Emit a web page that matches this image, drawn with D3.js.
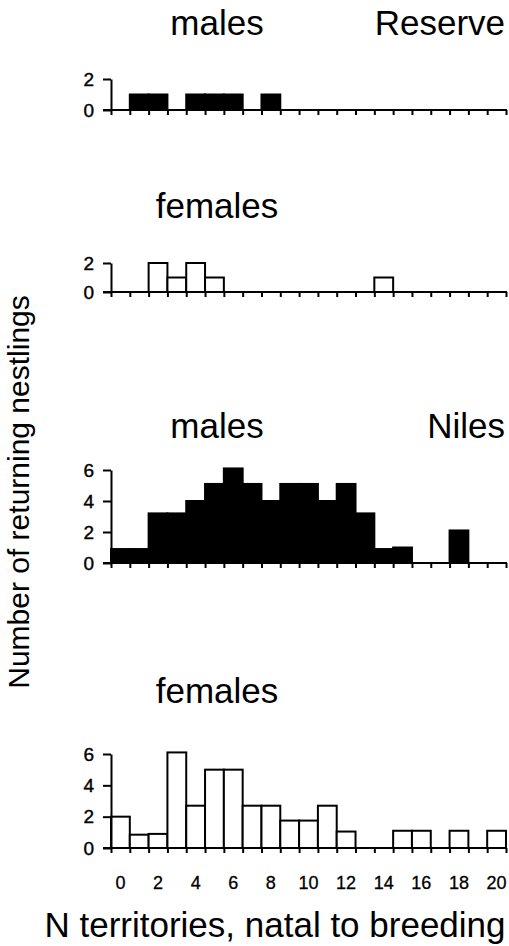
<!DOCTYPE html>
<html>
<head>
<meta charset="utf-8">
<script src="https://cdn.jsdelivr.net/npm/d3@7"></script>
<style>
  html, body { margin: 0; padding: 0; background: #fff; }
  svg { display: block; font-family: "Liberation Sans", Arial, Helvetica, sans-serif; }
</style>
</head>
<body>
<svg id="chart" width="509" height="946"></svg>
<script>
// Distance (in territories) between natal and breeding sites, bins 0..20
const bins = d3.range(0, 21);
const xTickLabels = [0, 2, 4, 6, 8, 10, 12, 14, 16, 18, 20];

// Reserve population
const reserveMales   = [0, 1, 1, 0, 1, 1, 1, 0, 1, 0, 0, 0, 0, 0, 0, 0, 0, 0, 0, 0, 0];
const reserveFemales = [0, 0, 2, 1, 2, 1, 0, 0, 0, 0, 0, 0, 0, 0, 1, 0, 0, 0, 0, 0, 0];
const reserveTicks   = [0, 2];

// Niles population
const nilesMales   = [0.9, 0.9, 3.2, 3.2, 4, 5.1, 6.1, 5.1, 4, 5.1, 5.1, 4, 5.1, 3.2, 0.9, 1, 0, 0, 2.1, 0, 0];
const nilesFemales = [2, 0.85, 0.9, 6.1, 2.7, 5, 5, 2.7, 2.7, 1.75, 1.75, 2.7, 1.05, 0, 0, 1.1, 1.1, 0, 1.1, 0, 1.1];
const nilesTicks   = [0, 2, 4, 6];

const svg = d3.select("#chart");

const x = d3.scaleLinear().domain([0, 21]).range([111, 506]);

const panels = [
  { values: reserveMales,   ticks: reserveTicks, max: 2, bottom: 110, top: 79,  fill: "#000", title: "males",   site: "Reserve", titleY: 35 },
  { values: reserveFemales, ticks: reserveTicks, max: 2, bottom: 292, top: 263, fill: "#fff", title: "females", site: null,      titleY: 218 },
  { values: nilesMales,     ticks: nilesTicks,   max: 6, bottom: 563, top: 470, fill: "#000", title: "males",   site: "Niles",   titleY: 438 },
  { values: nilesFemales,   ticks: nilesTicks,   max: 6, bottom: 848, top: 754, fill: "#fff", title: "females", site: null,      titleY: 703 }
];

panels.forEach((p, i) => {
  const y = d3.scaleLinear().domain([0, p.max]).range([p.bottom, p.top]);
  const g = svg.append("g");

  // bars
  g.selectAll("rect.bar")
    .data(p.values.map((v, k) => ({ bin: bins[k], v })).filter(d => d.v > 0))
    .join("rect")
    .attr("class", "bar")
    .attr("x", d => x(d.bin))
    .attr("width", d => x(d.bin + 1) - x(d.bin))
    .attr("y", d => y(d.v))
    .attr("height", d => y(0) - y(d.v))
    .attr("fill", p.fill)
    .attr("stroke", "#000")
    .attr("stroke-width", 2);

  // x axis: baseline with downward ticks at every bin edge
  const xAxis = d3.axisBottom(x)
    .tickValues(d3.range(0, 22))
    .tickSize(5)
    .tickSizeOuter(0)
    .tickFormat("");
  const xg = g.append("g")
    .attr("transform", `translate(0,${p.bottom})`)
    .call(xAxis);
  xg.select(".domain").remove();
  xg.selectAll(".tick line").attr("stroke", "#000").attr("stroke-width", 2);
  g.append("line")
    .attr("x1", 103).attr("x2", x(21) + 1)
    .attr("y1", p.bottom).attr("y2", p.bottom)
    .attr("stroke", "#000").attr("stroke-width", 2);

  // y axis
  const yAxis = d3.axisLeft(y)
    .tickValues(p.ticks)
    .tickSize(8)
    .tickSizeOuter(0)
    .tickPadding(9)
    .tickFormat(d3.format("d"));
  const yg = g.append("g")
    .attr("transform", `translate(${x(0)},0)`)
    .call(yAxis);
  yg.select(".domain").attr("stroke", "#000").attr("stroke-width", 2);
  yg.selectAll(".tick line").attr("stroke", "#000").attr("stroke-width", 2);
  yg.selectAll(".tick text")
    .style("font-size", "19px")
    .attr("font-family", "Liberation Sans, Arial, sans-serif")
    .attr("fill", "#000")
    .attr("stroke", "#000")
    .attr("stroke-width", 0.4);

  // panel titles
  g.append("text")
    .attr("x", 217).attr("y", p.titleY)
    .attr("text-anchor", "middle")
    .attr("font-size", 35)
    .text(p.title);
  if (p.site) {
    g.append("text")
      .attr("x", 505).attr("y", p.titleY)
      .attr("text-anchor", "end")
      .attr("font-size", 35)
      .text(p.site);
  }

  // tick labels on the bottom panel only
  if (i === panels.length - 1) {
    g.selectAll("text.xlab")
      .data(xTickLabels)
      .join("text")
      .attr("class", "xlab")
      .attr("x", d => x(d + 0.5))
      .attr("y", 889)
      .attr("text-anchor", "middle")
      .attr("font-size", 18)
      .attr("stroke", "#000")
      .attr("stroke-width", 0.3)
      .text(d => d);
  }
});

// axis titles
svg.append("text")
  .attr("transform", "translate(29,492) rotate(-90)")
  .attr("text-anchor", "middle")
  .attr("font-size", 30)
  .text("Number of returning nestlings");

svg.append("text")
  .attr("x", 275).attr("y", 937)
  .attr("text-anchor", "middle")
  .attr("font-size", 35)
  .text("N territories, natal to breeding");
</script>
</body>
</html>
